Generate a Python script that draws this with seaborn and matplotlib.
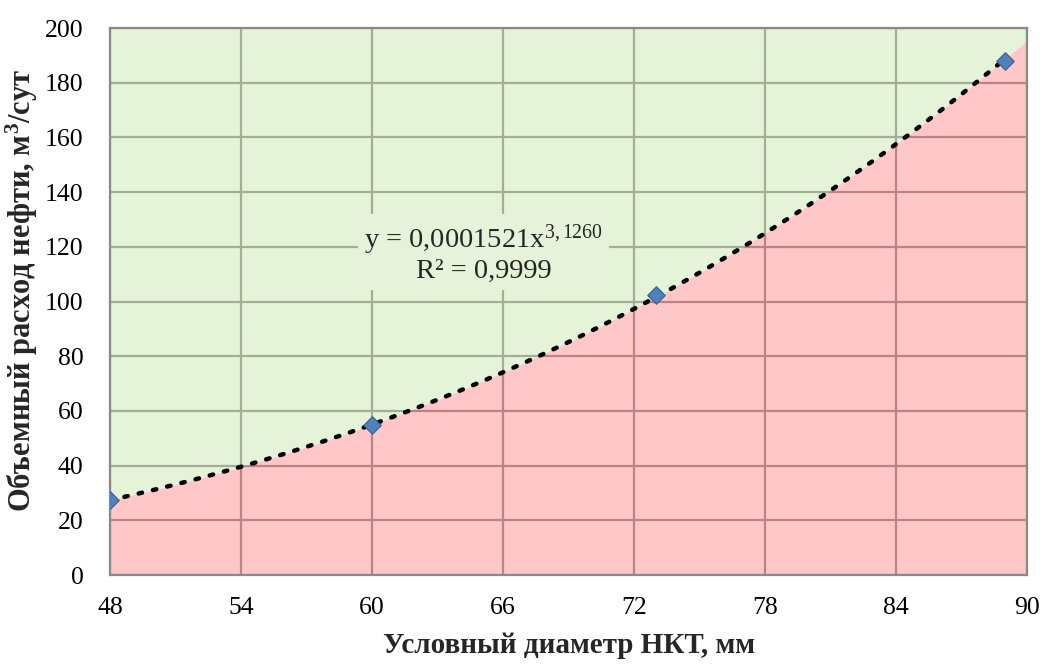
import numpy as np
import matplotlib
matplotlib.use("Agg")
import matplotlib.pyplot as plt
import seaborn as sns
import pandas as pd

# Measured points: nominal tubing diameter (mm) vs oil volume rate (m3/day)
diameter_mm = [48, 60, 73, 89]
oil_rate = [27.5, 55.0, 102.5, 188.0]

# Power trend y = a * x^b and its R^2
coef_a = 0.0001521
coef_b = 3.1260
r_squared = 0.9999

x_ticks = [48, 54, 60, 66, 72, 78, 84, 90]
y_ticks = [0, 20, 40, 60, 80, 100, 120, 140, 160, 180, 200]

sns.set_theme(style="white")
plt.rcParams["font.family"] = ["Liberation Serif", "DejaVu Serif"]
plt.rcParams["mathtext.fontset"] = "custom"
plt.rcParams["mathtext.rm"] = "Liberation Serif"
plt.rcParams["mathtext.it"] = "Liberation Serif:italic"
plt.rcParams["mathtext.bf"] = "Liberation Serif:bold"

df = pd.DataFrame({"d": diameter_mm, "q": oil_rate})

fig = plt.figure(figsize=(10.43, 6.64), dpi=100)
ax = fig.add_axes([0.1055, 0.134, 0.8792, 0.8238])

x_min, x_max = x_ticks[0], x_ticks[-1]
y_min, y_max = y_ticks[0], y_ticks[-1]

# Trend curve over the full axis range (for fills) and over the data range (for the line)
xf = np.linspace(x_min, x_max, 400)
yf = coef_a * xf ** coef_b
xl = np.linspace(diameter_mm[0], diameter_mm[-1], 400)
yl = coef_a * xl ** coef_b

ax.set_axisbelow(True)
ax.grid(True, color="#777777", linewidth=1.6)

# Regions above and below the trend curve
ax.fill_between(xf, yf, y_max, color="#cde8b5", alpha=0.5, linewidth=0, zorder=2)
ax.fill_between(xf, y_min, yf, color="#ff9090", alpha=0.5, linewidth=0, zorder=2)

# Dotted trend line
ax.plot(xl, yl, color="black", linewidth=3.2, linestyle=(0, (0.8, 2.5)),
        dash_capstyle="round", zorder=4)

# Data points
sns.scatterplot(data=df, x="d", y="q", ax=ax, marker="D", s=80,
                color="#4f81bd", edgecolor="#3a5f8f", linewidth=0.8,
                zorder=5, legend=False)

ax.set_xlim(x_min, x_max)
ax.set_ylim(y_min, y_max)
ax.set_xticks(x_ticks)
ax.set_yticks(y_ticks)
ax.tick_params(axis="both", length=0, labelsize=18.5, colors="black")
ax.tick_params(axis="x", pad=16)
ax.tick_params(axis="y", pad=19)

for s in ax.spines.values():
    s.set_visible(True)
    s.set_color("#8a8a8a")
    s.set_linewidth(1.6)

ax.set_xlabel("Условный диаметр НКТ, мм", fontsize=21, fontweight="bold")
ax.set_ylabel(r"Объемный расход нефти, м$^\mathbf{3}$/сут", fontsize=22,
              fontweight="bold")
ax.xaxis.set_label_coords(0.5, -0.105)
ax.yaxis.set_label_coords(-0.076, 0.52)

coef_a_txt = f"{coef_a:.7f}".replace(".", ",")
coef_b_txt = f"{coef_b:.4f}".replace(".", ",")
r2_txt = f"{r_squared:.4f}".replace(".", ",")
label = f"y = {coef_a_txt}x$^{{\\mathrm{{{coef_b_txt}}}}}$\nR² = {r2_txt}"
ax.text(65.1, 117.5, label, ha="center", va="center", fontsize=20.5,
        linespacing=1.1, zorder=6,
        bbox=dict(boxstyle="square,pad=0.2", facecolor="#e6f3da", edgecolor="none"))

fig.savefig("out.png", dpi=100)
